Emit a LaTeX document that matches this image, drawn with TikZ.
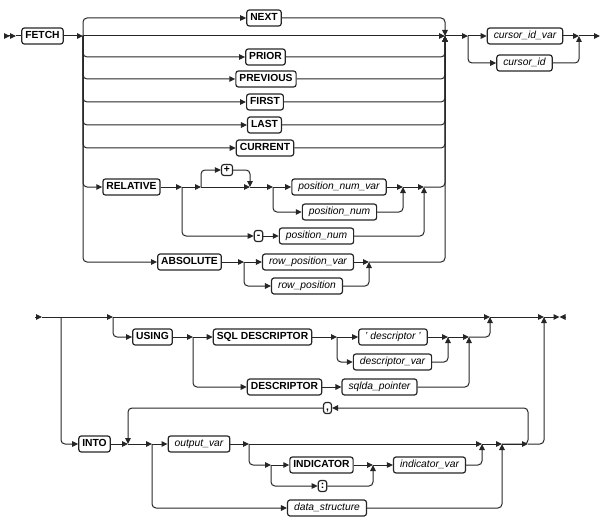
\documentclass[tikz,border=0pt]{standalone}
\usepackage{fontspec}
\setmainfont{Liberation Sans}
\usetikzlibrary{arrows.meta}

\begin{document}
\begin{tikzpicture}[x=1pt,y=-1pt,
		rail/.style={draw=black!85, line width=1pt, rounded corners=4pt},
		railtip/.style={-{Triangle[length=6pt,width=5.5pt]}},
		kw/.style={draw=black!85, line width=1.2pt, rounded corners=2.5pt, font=\fontsize{10.3}{12}\selectfont\bfseries, minimum height=16pt, inner xsep=3.5pt, inner ysep=0pt, text height=7.4pt, text depth=2.2pt},
		var/.style={kw, font=\fontsize{10.3}{12}\selectfont\itshape, inner xsep=6.5pt},
		punct/.style={kw, minimum height=11pt, text height=6pt, text depth=1.5pt, inner xsep=2.5pt}]
				\useasboundingbox (0,0) rectangle (606,527);
				
				\node[kw] (fetch) at (42.5,36) {FETCH};
				\node[kw] (next) at (264,18) {NEXT};
				\node[kw] (prior) at (265.5,57) {PRIOR};
				\node[kw] (previous) at (266,79) {PREVIOUS};
				\node[kw] (first) at (265,102) {FIRST};
				\node[kw] (last) at (264.5,125) {LAST};
				\node[kw] (current) at (265,148) {CURRENT};
				\node[kw] (relative) at (131.5,187) {RELATIVE};
				\node[punct] (plus) at (227,170) {+};
				\node[var] (posnumvar) at (339,187) {position\_num\_var};
				\node[var] (posnum) at (339.5,212) {position\_num};
				\node[punct] (minus) at (258.5,236) {-};
				\node[var] (posnumb) at (316.5,236) {position\_num};
				\node[kw] (absolute) at (189.5,262) {ABSOLUTE};
				\node[var] (rowposvar) at (308,262) {row\_position\_var};
				\node[var] (rowpos) at (307,286) {row\_position};
				\node[var] (cursoridvar) at (525,36) {cursor\_id\_var};
				\node[var] (cursorid) at (524.5,63) {cursor\_id};
				
				\coordinate (start) at (4,36);
				\coordinate (begin) at (16,36);
				\coordinate (split) at (83,36);
				\coordinate (join) at (445,36);
				\coordinate (csplit) at (468,36);
				\coordinate (cjoin) at (579,36);
				\coordinate (stop) at (600,36);
				\coordinate (relsplit) at (182,187);
				\coordinate (signsplit) at (201,187);
				\coordinate (signjoin) at (250,187);
				\coordinate (numsplit) at (273,187);
				\coordinate (numjoin) at (403,187);
				\coordinate (reljoin) at (424,187);
				\coordinate (abssplit) at (244,262);
				\coordinate (absjoin) at (369,262);
				
				\draw[rail,-{Triangle[length=6pt,width=5.5pt]Triangle[length=6pt,width=5.5pt]}] (start) -- (begin);
				\draw[rail] (begin) -- (fetch);
				\draw[rail,railtip] (fetch) -- (split);
				\draw[rail,railtip] (split) -- (join);
				\draw[rail,railtip] (split) |- (next);
				\draw[rail,railtip] (next) -| (join);
				\draw[rail,railtip] (split) |- (prior);
				\draw[rail,railtip] (prior) -| (join);
				\draw[rail,railtip] (split) |- (previous);
				\draw[rail,railtip] (previous) -| (join);
				\draw[rail,railtip] (split) |- (first);
				\draw[rail,railtip] (first) -| (join);
				\draw[rail,railtip] (split) |- (last);
				\draw[rail,railtip] (last) -| (join);
				\draw[rail,railtip] (split) |- (current);
				\draw[rail,railtip] (current) -| (join);
				
				\draw[rail,railtip] (split) |- (relative);
				\draw[rail,railtip] (relative) -- (relsplit);
				\draw[rail,railtip] (relsplit) -- (signsplit);
				\draw[rail,railtip] (signsplit) |- (plus);
				\draw[rail,railtip] (plus) -| (signjoin);
				\draw[rail,railtip] (signsplit) -- (signjoin);
				\draw[rail,railtip] (signjoin) -- (numsplit);
				\draw[rail,railtip] (numsplit) -- (posnumvar);
				\draw[rail,railtip] (numsplit) |- (posnum);
				\draw[rail,railtip] (posnumvar) -- (numjoin);
				\draw[rail,railtip] (posnum) -| (numjoin);
				\draw[rail,railtip] (numjoin) -- (reljoin);
				\draw[rail,railtip] (relsplit) |- (minus);
				\draw[rail,railtip] (minus) -- (posnumb);
				\draw[rail,railtip] (posnumb) -| (reljoin);
				\draw[rail,railtip] (reljoin) -| (join);
				
				\draw[rail,railtip] (split) |- (absolute);
				\draw[rail,railtip] (absolute) -- (abssplit);
				\draw[rail,railtip] (abssplit) -- (rowposvar);
				\draw[rail,railtip] (abssplit) |- (rowpos);
				\draw[rail,railtip] (rowposvar) -- (absjoin);
				\draw[rail,railtip] (rowpos) -| (absjoin);
				\draw[rail,railtip] (absjoin) -| (join);
				
				\draw[rail,railtip] (join) -- (csplit);
				\draw[rail,railtip] (csplit) -- (cursoridvar);
				\draw[rail,railtip] (csplit) |- (cursorid);
				\draw[rail,railtip] (cursoridvar) -- (cjoin);
				\draw[rail,railtip] (cursorid) -| (cjoin);
				\draw[rail,railtip] (cjoin) -- (stop);
				
				\node[kw] (using) at (152.5,337) {USING};
				\node[kw] (sqldesc) at (262.5,337) {SQL DESCRIPTOR};
				\node[kw] (descriptor) at (284.5,387) {DESCRIPTOR};
				\node[var] (quotedesc) at (393,337) {' descriptor '};
				\node[var] (descvar) at (392.5,362) {descriptor\_var};
				\node[var] (sqlda) at (379.5,387) {sqlda\_pointer};
				\node[kw] (into) at (94.5,444) {INTO};
				\node[var] (outputvar) at (199,444) {output\_var};
				\node[kw] (indicator) at (321.5,465) {INDICATOR};
				\node[punct] (colon) at (322.5,486) {:};
				\node[var] (indicatorvar) at (429.5,465) {indicator\_var};
				\node[var] (datastruct) at (327,508) {data\_structure};
				\node[punct] (comma) at (327.5,408) {,};
				
				\coordinate (bstart) at (35,317);
				\coordinate (bbegin) at (42,317);
				\coordinate (intosplit) at (61,317);
				\coordinate (usingsplit) at (113,317);
				\coordinate (usingjoin) at (490,317);
				\coordinate (intojoin) at (544,317);
				\coordinate (bstop) at (559.5,317);
				\coordinate (bend) at (566,317);
				\coordinate (descsplit) at (193,337);
				\coordinate (sqlsplit) at (337,337);
				\coordinate (sqljoin) at (448,337);
				\coordinate (descjoin) at (469,337);
				\coordinate (loopjoin) at (128,444);
				\coordinate (varsplit) at (152,444);
				\coordinate (indsplit) at (249,444);
				\coordinate (indjoin) at (482,444);
				\coordinate (structjoin) at (502,444);
				\coordinate (loopsplit) at (528,444);
				\coordinate (looptop) at (528,408);
				\coordinate (kwsplit) at (271,465);
				\coordinate (kwjoin) at (373,465);
				
				\draw[rail,railtip] (bstart) -- (bbegin);
				\draw[rail,railtip] (bbegin) -- (usingsplit);
				\draw[rail,railtip] (usingsplit) -- (usingjoin);
				\draw[rail,railtip] (usingjoin) -- (intojoin);
				\draw[rail,railtip] (intojoin) -- (bstop);
				\draw[rail,railtip] (bend) -- (bstop);
				
				\draw[rail,railtip] (usingsplit) |- (using);
				\draw[rail,railtip] (using) -- (descsplit);
				\draw[rail,railtip] (descsplit) -- (sqldesc);
				\draw[rail,railtip] (descsplit) |- (descriptor);
				\draw[rail,railtip] (sqldesc) -- (sqlsplit);
				\draw[rail,railtip] (sqlsplit) -- (quotedesc);
				\draw[rail,railtip] (sqlsplit) |- (descvar);
				\draw[rail,railtip] (quotedesc) -- (sqljoin);
				\draw[rail,railtip] (descvar) -| (sqljoin);
				\draw[rail,railtip] (sqljoin) -- (descjoin);
				\draw[rail,railtip] (descriptor) -- (sqlda);
				\draw[rail,railtip] (sqlda) -| (descjoin);
				\draw[rail,railtip] (descjoin) -| (usingjoin);
				
				\draw[rail,railtip] (intosplit) |- (into);
				\draw[rail,railtip] (into) -- (loopjoin);
				\draw[rail,railtip] (loopjoin) -- (varsplit);
				\draw[rail,railtip] (varsplit) -- (outputvar);
				\draw[rail,railtip] (varsplit) |- (datastruct);
				\draw[rail,railtip] (outputvar) -- (indsplit);
				\draw[rail,railtip] (indsplit) -- (indjoin);
				\draw[rail,railtip] (indsplit) |- (kwsplit);
				\draw[rail,railtip] (kwsplit) -- (indicator);
				\draw[rail,railtip] (kwsplit) |- (colon);
				\draw[rail,railtip] (indicator) -- (kwjoin);
				\draw[rail,railtip] (colon) -| (kwjoin);
				\draw[rail,railtip] (kwjoin) -- (indicatorvar);
				\draw[rail,railtip] (indicatorvar) -| (indjoin);
				\draw[rail,railtip] (indjoin) -- (structjoin);
				\draw[rail,railtip] (datastruct) -| (structjoin);
				\draw[rail,railtip] (structjoin) -- (loopsplit);
				\draw[rail,railtip] (structjoin) -| (looptop) -- (comma);
				\draw[rail,railtip] (comma) -| (loopjoin);
				\draw[rail,railtip] (loopsplit) -| (intojoin);
			\end{tikzpicture}
\end{document}
